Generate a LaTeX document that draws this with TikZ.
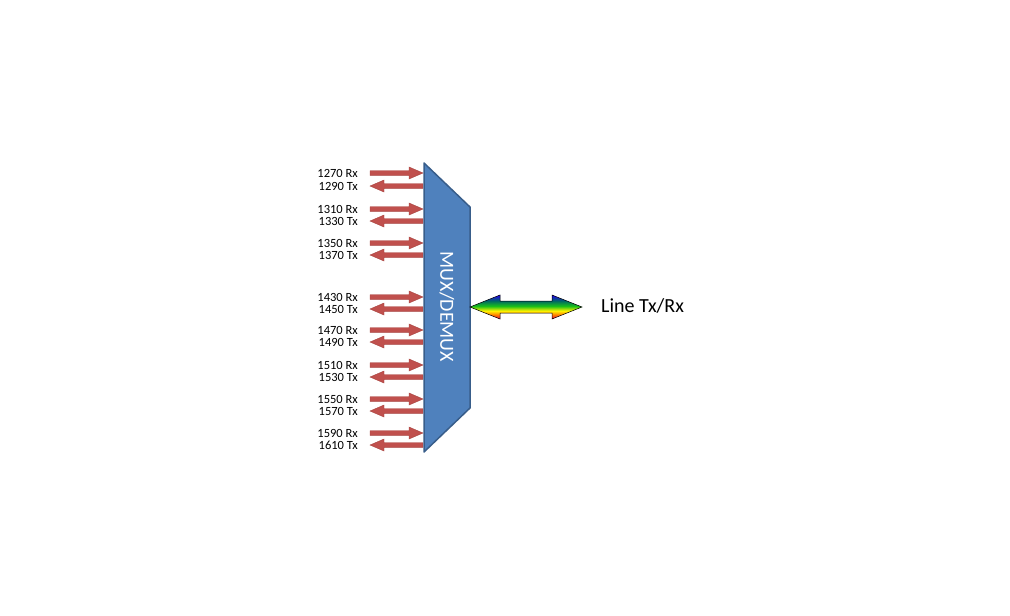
\documentclass[tikz,border=0pt]{standalone}
\usepackage{fontspec}
\setmainfont{Carlito}
\pgfdeclareverticalshading{rainbow}{100bp}{rgb(0bp)=(0.9,0,0.3); rgb(25bp)=(0.9,0,0.3); rgb(33bp)=(1,0.45,0); rgb(42bp)=(1,0.95,0); rgb(52bp)=(0.1,0.75,0.1); rgb(63bp)=(0,0.4,0.4); rgb(75bp)=(0.15,0,0.95); rgb(100bp)=(0.15,0,0.95)}
\definecolor{arr}{HTML}{C0504D}
\definecolor{arrb}{HTML}{A84440}
\definecolor{mux}{HTML}{4F81BD}
\definecolor{muxb}{HTML}{385D8A}
\tikzset{lbl/.style={font=\fontsize{12.5}{13}\selectfont, anchor=east, inner sep=0pt},
 blk/.style={fill=arr, draw=arrb, line width=0.4pt}}
\newcommand\rxarr[1]{\draw[blk] (370,#1-2.3) -- (409,#1-2.3) -- (409,#1-6) -- (423,#1) -- (409,#1+6) -- (409,#1+2.3) -- (370,#1+2.3) -- cycle;}
\newcommand\txarr[1]{\draw[blk] (423,#1-2.3) -- (384,#1-2.3) -- (384,#1-6) -- (370,#1) -- (384,#1+6) -- (384,#1+2.3) -- (423,#1+2.3) -- cycle;}
\begin{document}
\begin{tikzpicture}[x=1pt,y=-1pt]
\useasboundingbox (0,0) rectangle (1010,616);
\foreach \r/\t/\ya/\yb [count=\i] in {1270/1290/173/186,1310/1330/209/221,1350/1370/243/255,1430/1450/297/309,1470/1490/330/342,1510/1530/365/377,1550/1570/399/411,1590/1610/433/445}{
 \rxarr{\ya}
 \txarr{\yb}
 \node[lbl] (rx\i) at (358,\ya) {\r{} Rx};
 \node[lbl] (tx\i) at (358,\yb) {\t{} Tx};
}
\draw[fill=mux, draw=muxb, line width=1.5pt, line join=round] (424,163) -- (470,207) -- (470,408) -- (424,452) -- cycle;
\node[white, rotate=-90, font=\fontsize{20}{22}\selectfont] (mux) at (447,307) {MUX/DEMUX};
\draw[shading=rainbow, draw=black, line width=0.5pt] (470,307) -- (500,295) -- (500,301) -- (552,301) -- (552,295) -- (582,307) -- (552,319) -- (552,313) -- (500,313) -- (500,319) -- cycle;
\node[anchor=west, font=\fontsize{20}{22}\selectfont, inner sep=0pt] (line) at (601,306) {Line Tx/Rx};
\end{tikzpicture}
\end{document}
